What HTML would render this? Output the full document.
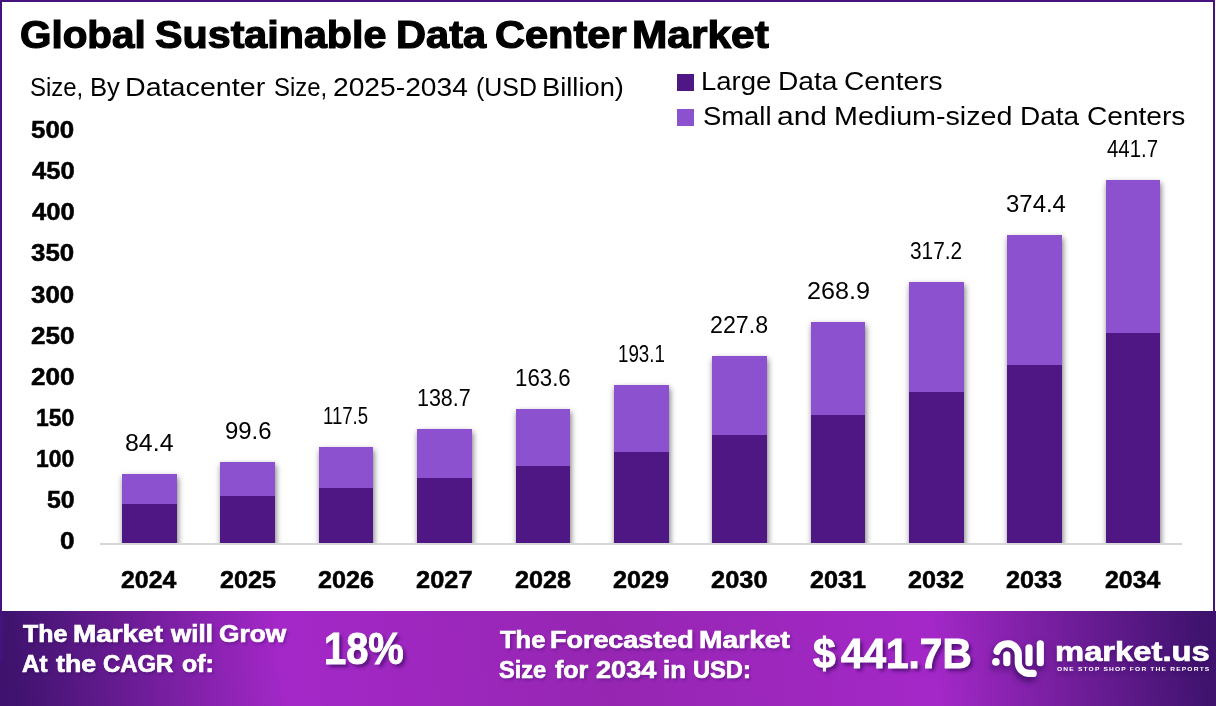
<!DOCTYPE html>
<html lang="en">
<head>
<meta charset="utf-8">
<title>Global Sustainable Data Center Market</title>
<style>
html,body{margin:0;padding:0;background:#fff}
body{width:1216px;height:706px;position:relative;overflow:hidden;font-family:"Liberation Sans", sans-serif}
.frame{position:absolute;left:0;top:0;width:1215px;height:706px;box-sizing:border-box;border:2px solid #46127e;border-bottom:0}
.t{position:absolute;left:0;white-space:nowrap;margin:0;padding:0;width:0}
.t span{position:absolute;top:0;display:block;transform-origin:0 50%;white-space:nowrap}
.sw{position:absolute;left:677px;width:17px;height:17px}
.axis{position:absolute;left:100px;top:542.9px;width:1082px;height:1.7px;background:#d6d6d6}
.chart{position:absolute;left:0;top:0;width:1216px;height:542.9px;overflow:hidden}
.bar{position:absolute;background:#4e1783;box-shadow:0.5px 2.5px 6px rgba(0,0,0,.55)}
.bar i{display:block;background:#8c51cf;width:100%}
.footer{position:absolute;left:0;top:611px;width:1216px;height:95px;
 background:linear-gradient(84deg,#3e126e 0%,#40136f 1.5%,#a428c8 23.5%,#9626b2 50%,#a428c8 76.5%,#40136f 98.5%,#3e126e 100%)}
.lb{position:absolute;left:0;top:611px;width:2px;height:50px;background:#46127e}
.ft{text-shadow:1.5px 2px 3px rgba(40,5,80,.4)}
.big{text-shadow:3px 3px 4px rgba(40,5,80,.65)}
.logo,.tag{text-shadow:0 3px 4px rgba(50,10,90,.55)}
.logo-ic{position:absolute;overflow:visible;filter:drop-shadow(-1px 4px 3px rgba(40,5,80,.7))}
</style>
</head>
<body>
<div class="frame"></div>
<header>
<div class="t title" style="top:13px;font-size:38.16px;line-height:43px;height:43px;font-weight:700;color:#000;-webkit-text-stroke:1.2px #000"><span style="left:20.24px;transform:scaleX(1.0591)">Global</span> <span style="left:154.66px;transform:scaleX(1.0807)">Sustainable</span> <span style="left:396.20px;transform:scaleX(1.0898)">Data</span> <span style="left:494.70px;transform:scaleX(1.0887)">Center</span> <span style="left:632.45px;transform:scaleX(1.1126)">Market</span></div>
<div class="t sub" style="top:73px;font-size:24.90px;line-height:28px;height:28px;font-weight:400;color:#000"><span style="left:30.30px;transform:scaleX(0.9627)">Size,</span> <span style="left:89.60px;transform:scaleX(1.0290)">By</span> <span style="left:125.16px;transform:scaleX(1.1517)">Datacenter</span> <span style="left:273.95px;transform:scaleX(0.9598)">Size,</span> <span style="left:333.18px;transform:scaleX(1.1331)">2025-2034</span> <span style="left:476.23px;transform:scaleX(1.0011)">(USD</span> <span style="left:542.07px;transform:scaleX(1.0967)">Billion)</span></div>
</header>
<main>
<section class="legend">
<div class="sw" style="top:74px;background:#4e1783"></div>
<div class="sw" style="top:109px;background:#8c51cf"></div>
<div class="t leg" style="top:67px;font-size:24.90px;line-height:28px;height:28px;font-weight:400;color:#000"><span style="left:701.25px;transform:scaleX(1.1049)">Large</span> <span style="left:777.50px;transform:scaleX(1.1317)">Data</span> <span style="left:844.18px;transform:scaleX(1.1321)">Centers</span></div>
<div class="t leg" style="top:102px;font-size:25.05px;line-height:28px;height:28px;font-weight:400;color:#000"><span style="left:702.54px;transform:scaleX(1.0946)">Small</span> <span style="left:777.46px;transform:scaleX(1.1968)">and</span> <span style="left:834.16px;transform:scaleX(1.1445)">Medium-sized</span> <span style="left:1019.91px;transform:scaleX(1.1190)">Data</span> <span style="left:1086.88px;transform:scaleX(1.1218)">Centers</span></div>
</section>
<section class="plot">
<div class="yaxis">
<div class="t yl" style="top:528px;font-size:23.32px;line-height:26px;height:26px;font-weight:700;color:#000;-webkit-text-stroke:0.5px #000"><span style="left:59.73px;transform:scaleX(1.1243)">0</span></div>
<div class="t yl" style="top:487px;font-size:23.32px;line-height:26px;height:26px;font-weight:700;color:#000;-webkit-text-stroke:0.5px #000"><span style="left:46.56px;transform:scaleX(1.0678)">50</span></div>
<div class="t yl" style="top:446px;font-size:23.32px;line-height:26px;height:26px;font-weight:700;color:#000;-webkit-text-stroke:0.5px #000"><span style="left:35.92px;transform:scaleX(0.9834)">100</span></div>
<div class="t yl" style="top:405px;font-size:23.32px;line-height:26px;height:26px;font-weight:700;color:#000;-webkit-text-stroke:0.5px #000"><span style="left:35.92px;transform:scaleX(0.9834)">150</span></div>
<div class="t yl" style="top:364px;font-size:23.32px;line-height:26px;height:26px;font-weight:700;color:#000;-webkit-text-stroke:0.5px #000"><span style="left:30.73px;transform:scaleX(1.1199)">200</span></div>
<div class="t yl" style="top:323px;font-size:23.32px;line-height:26px;height:26px;font-weight:700;color:#000;-webkit-text-stroke:0.5px #000"><span style="left:30.73px;transform:scaleX(1.1199)">250</span></div>
<div class="t yl" style="top:282px;font-size:23.32px;line-height:26px;height:26px;font-weight:700;color:#000;-webkit-text-stroke:0.5px #000"><span style="left:31.15px;transform:scaleX(1.1091)">300</span></div>
<div class="t yl" style="top:240px;font-size:23.32px;line-height:26px;height:26px;font-weight:700;color:#000;-webkit-text-stroke:0.5px #000"><span style="left:31.15px;transform:scaleX(1.1091)">350</span></div>
<div class="t yl" style="top:199px;font-size:23.32px;line-height:26px;height:26px;font-weight:700;color:#000;-webkit-text-stroke:0.5px #000"><span style="left:31.55px;transform:scaleX(1.0984)">400</span></div>
<div class="t yl" style="top:158px;font-size:23.32px;line-height:26px;height:26px;font-weight:700;color:#000;-webkit-text-stroke:0.5px #000"><span style="left:31.55px;transform:scaleX(1.0984)">450</span></div>
<div class="t yl" style="top:117px;font-size:23.32px;line-height:26px;height:26px;font-weight:700;color:#000;-webkit-text-stroke:0.5px #000"><span style="left:31.15px;transform:scaleX(1.1091)">500</span></div>
</div>
<div class="chart">
<div class="bar" style="left:122.10px;top:474.03px;width:54.7px;height:74.87px"><i style="height:29.97px"></i></div>
<div class="bar" style="left:220.45px;top:461.52px;width:54.7px;height:87.38px"><i style="height:34.38px"></i></div>
<div class="bar" style="left:318.80px;top:446.79px;width:54.7px;height:102.11px"><i style="height:41.11px"></i></div>
<div class="bar" style="left:417.15px;top:429.34px;width:54.7px;height:119.56px"><i style="height:48.56px"></i></div>
<div class="bar" style="left:515.50px;top:408.84px;width:54.7px;height:140.06px"><i style="height:56.86px"></i></div>
<div class="bar" style="left:613.85px;top:384.56px;width:54.7px;height:164.34px"><i style="height:67.14px"></i></div>
<div class="bar" style="left:712.20px;top:356.00px;width:54.7px;height:192.90px"><i style="height:78.80px"></i></div>
<div class="bar" style="left:810.55px;top:322.17px;width:54.7px;height:226.73px"><i style="height:92.63px"></i></div>
<div class="bar" style="left:908.90px;top:282.41px;width:54.7px;height:266.49px"><i style="height:109.39px"></i></div>
<div class="bar" style="left:1007.25px;top:235.33px;width:54.7px;height:313.57px"><i style="height:129.37px"></i></div>
<div class="bar" style="left:1105.60px;top:179.94px;width:54.7px;height:368.96px"><i style="height:153.06px"></i></div>
</div>
<div class="axis"></div>
<div class="values">
<div class="t vl" style="top:430px;font-size:23.61px;line-height:26px;height:26px;font-weight:400;color:#000"><span style="left:125.12px;transform:scaleX(1.0554)">84.4</span></div>
<div class="t vl" style="top:418px;font-size:23.61px;line-height:26px;height:26px;font-weight:400;color:#000"><span style="left:224.68px;transform:scaleX(1.0117)">99.6</span></div>
<div class="t vl" style="top:403px;font-size:23.61px;line-height:26px;height:26px;font-weight:400;color:#000"><span style="left:323.34px;transform:scaleX(0.7869)">117.5</span></div>
<div class="t vl" style="top:385px;font-size:23.61px;line-height:26px;height:26px;font-weight:400;color:#000"><span style="left:417.36px;transform:scaleX(0.9091)">138.7</span></div>
<div class="t vl" style="top:365px;font-size:23.61px;line-height:26px;height:26px;font-weight:400;color:#000"><span style="left:514.91px;transform:scaleX(0.9426)">163.6</span></div>
<div class="t vl" style="top:341px;font-size:23.61px;line-height:26px;height:26px;font-weight:400;color:#000"><span style="left:617.53px;transform:scaleX(0.7926)">193.1</span></div>
<div class="t vl" style="top:312px;font-size:23.61px;line-height:26px;height:26px;font-weight:400;color:#000"><span style="left:710.41px;transform:scaleX(0.9821)">227.8</span></div>
<div class="t vl" style="top:278px;font-size:23.61px;line-height:26px;height:26px;font-weight:400;color:#000"><span style="left:806.82px;transform:scaleX(1.0663)">268.9</span></div>
<div class="t vl" style="top:238px;font-size:23.61px;line-height:26px;height:26px;font-weight:400;color:#000"><span style="left:910.25px;transform:scaleX(0.8835)">317.2</span></div>
<div class="t vl" style="top:191px;font-size:23.61px;line-height:26px;height:26px;font-weight:400;color:#000"><span style="left:1005.55px;transform:scaleX(1.0146)">374.4</span></div>
<div class="t vl" style="top:136px;font-size:23.61px;line-height:26px;height:26px;font-weight:400;color:#000"><span style="left:1106.98px;transform:scaleX(0.8657)">441.7</span></div>
</div>
<div class="xaxis">
<div class="t xl" style="top:567px;font-size:23.18px;line-height:26px;height:26px;font-weight:700;color:#000;-webkit-text-stroke:0.5px #000"><span style="left:121.32px;transform:scaleX(1.0728)">2024</span></div>
<div class="t xl" style="top:567px;font-size:23.18px;line-height:26px;height:26px;font-weight:700;color:#000;-webkit-text-stroke:0.5px #000"><span style="left:219.66px;transform:scaleX(1.0882)">2025</span></div>
<div class="t xl" style="top:567px;font-size:23.18px;line-height:26px;height:26px;font-weight:700;color:#000;-webkit-text-stroke:0.5px #000"><span style="left:318.01px;transform:scaleX(1.0882)">2026</span></div>
<div class="t xl" style="top:567px;font-size:23.18px;line-height:26px;height:26px;font-weight:700;color:#000;-webkit-text-stroke:0.5px #000"><span style="left:416.36px;transform:scaleX(1.0961)">2027</span></div>
<div class="t xl" style="top:567px;font-size:23.18px;line-height:26px;height:26px;font-weight:700;color:#000;-webkit-text-stroke:0.5px #000"><span style="left:514.71px;transform:scaleX(1.0882)">2028</span></div>
<div class="t xl" style="top:567px;font-size:23.18px;line-height:26px;height:26px;font-weight:700;color:#000;-webkit-text-stroke:0.5px #000"><span style="left:613.06px;transform:scaleX(1.0882)">2029</span></div>
<div class="t xl" style="top:567px;font-size:23.18px;line-height:26px;height:26px;font-weight:700;color:#000;-webkit-text-stroke:0.5px #000"><span style="left:711.41px;transform:scaleX(1.0961)">2030</span></div>
<div class="t xl" style="top:567px;font-size:23.18px;line-height:26px;height:26px;font-weight:700;color:#000;-webkit-text-stroke:0.5px #000"><span style="left:809.76px;transform:scaleX(1.0882)">2031</span></div>
<div class="t xl" style="top:567px;font-size:23.18px;line-height:26px;height:26px;font-weight:700;color:#000;-webkit-text-stroke:0.5px #000"><span style="left:908.11px;transform:scaleX(1.0882)">2032</span></div>
<div class="t xl" style="top:567px;font-size:23.18px;line-height:26px;height:26px;font-weight:700;color:#000;-webkit-text-stroke:0.5px #000"><span style="left:1006.46px;transform:scaleX(1.0882)">2033</span></div>
<div class="t xl" style="top:567px;font-size:23.18px;line-height:26px;height:26px;font-weight:700;color:#000;-webkit-text-stroke:0.5px #000"><span style="left:1104.82px;transform:scaleX(1.0728)">2034</span></div>
</div>
</section>
</main>
<footer>
<div class="footer"></div>
<div class="lb"></div>
<div class="t ft" style="top:621px;font-size:23.28px;line-height:26px;height:26px;font-weight:700;color:#fff;-webkit-text-stroke:0.7px #fff"><span style="left:23.05px;transform:scaleX(1.0709)">The</span> <span style="left:72.61px;transform:scaleX(1.1990)">Market</span> <span style="left:170.96px;transform:scaleX(1.1178)">will</span> <span style="left:218.63px;transform:scaleX(1.1283)">Grow</span></div>
<div class="t ft" style="top:651px;font-size:23.28px;line-height:26px;height:26px;font-weight:700;color:#fff;-webkit-text-stroke:0.7px #fff"><span style="left:21.67px;transform:scaleX(1.0379)">At</span> <span style="left:55.85px;transform:scaleX(1.1503)">the</span> <span style="left:103.20px;transform:scaleX(1.0271)">CAGR</span> <span style="left:181.67px;transform:scaleX(1.0678)">of:</span></div>
<div class="t big" style="top:624px;font-size:44.37px;line-height:49px;height:49px;font-weight:700;color:#fff;-webkit-text-stroke:1.0px #fff"><span style="left:323.61px;transform:scaleX(0.8993)">18%</span></div>
<div class="t ft" style="top:627px;font-size:23.14px;line-height:26px;height:26px;font-weight:700;color:#fff;-webkit-text-stroke:0.7px #fff"><span style="left:499.55px;transform:scaleX(1.1020)">The</span> <span style="left:550.27px;transform:scaleX(1.1648)">Forecasted</span> <span style="left:699.39px;transform:scaleX(1.2200)">Market</span></div>
<div class="t ft" style="top:657px;font-size:23.28px;line-height:26px;height:26px;font-weight:700;color:#fff;-webkit-text-stroke:0.7px #fff"><span style="left:499.18px;transform:scaleX(1.0123)">Size</span> <span style="left:555.26px;transform:scaleX(1.0745)">for</span> <span style="left:595.50px;transform:scaleX(1.1658)">2034</span> <span style="left:663.34px;transform:scaleX(1.1045)">in</span> <span style="left:692.64px;transform:scaleX(1.0171)">USD:</span></div>
<div class="t big" style="top:629px;font-size:42.81px;line-height:48px;height:48px;font-weight:700;color:#fff;-webkit-text-stroke:1.0px #fff"><span style="left:813.20px;transform:scaleX(0.9568)">$</span><span style="left:841.00px;transform:scaleX(0.9468)">441.7B</span></div>
<div class="brand">
<svg class="logo-ic" width="70" height="60" viewBox="985 630 70 60" style="left:985px;top:630px">
<g fill="none" stroke="#fff" stroke-width="7.2" stroke-linecap="round" stroke-linejoin="round">
<path d="M997.0 651.4 A10.9 10.9 0 0 1 1018.3 654.7 L1018.3 662.5 A10.9 10.9 0 0 0 1029.2 673.4 L1033.2 673.4"/>
<path d="M1006.8 654.9 L1006.8 662.7"/>
<path d="M1029.0 647.9 L1029.0 662.7"/>
<path d="M1040.3 643.8 L1040.3 662.7"/>
</g>
<circle cx="995.9" cy="661.9" r="3.8" fill="#fff"/>
</svg>
<div class="t logo" style="top:636px;font-size:27.85px;line-height:31px;height:31px;font-weight:700;color:#fff;-webkit-text-stroke:0.7px #fff"><span style="left:1055.10px;transform:scaleX(1.1771)">market.us</span></div>
<div class="t tag" style="top:666px;font-size:5.69px;line-height:6px;height:6px;font-weight:700;color:#fff;letter-spacing:1.0px"><span style="left:1056.59px;transform:scaleX(1.1679)">ONE STOP SHOP FOR THE REPORTS</span></div>
</div>
</footer>
</body>
</html>
